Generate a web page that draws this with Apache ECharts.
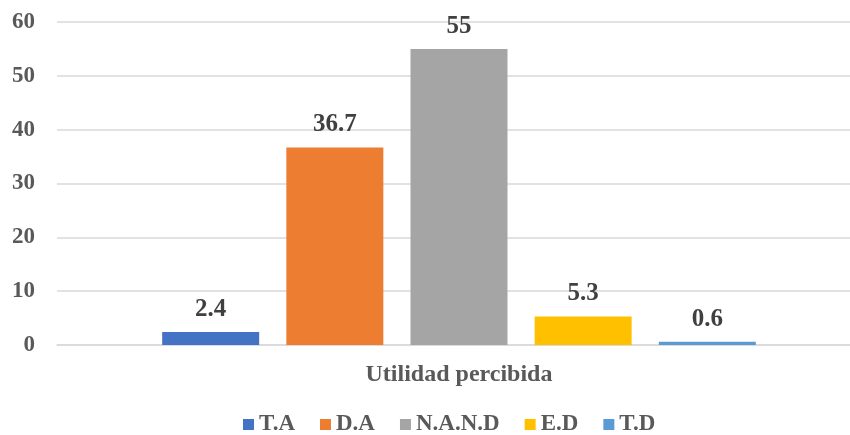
<!DOCTYPE html>
<html>
<head>
<meta charset="utf-8">
<script src="https://cdn.jsdelivr.net/npm/echarts@6/dist/echarts.min.js"></script>
<style>
  html, body { margin: 0; padding: 0; background: #fff; overflow: hidden; }
  #chart { width: 861px; height: 435px; }
</style>
</head>
<body>
<div id="chart"></div>
<script>
// Perceived usefulness survey: share of responses per answer option
const categories = ['Utilidad percibida'];
const seriesNames = ['T.A', 'D.A', 'N.A.N.D', 'E.D', 'T.D'];
const seriesValues = [[2.4], [36.7], [55], [5.3], [0.6]];
const seriesColors = ['#4472C4', '#ED7D31', '#A5A5A5', '#FFC000', '#5B9BD5'];
const yTicks = [0, 10, 20, 30, 40, 50, 60];

const font = '"Liberation Serif", "Times New Roman", serif';
const textColor = '#595959';

const chart = echarts.init(document.getElementById('chart'), null, { renderer: 'canvas' });

chart.setOption({
  animation: false,
  textStyle: { fontFamily: font },
  grid: { left: 57, top: 22, right: 0, height: 323, containLabel: false },
  legend: {
    data: seriesNames,
    top: 413,
    left: 243,
    padding: 0,
    icon: 'rect',
    itemWidth: 11,
    itemHeight: 11,
    itemGap: 25,
    textStyle: { fontFamily: font, fontSize: 23, fontWeight: 'bold', color: textColor }
  },
  xAxis: {
    type: 'category',
    data: categories,
    axisLine: { show: true, lineStyle: { color: '#D9D9D9', width: 1.5 } },
    axisTick: { show: false },
    axisLabel: { margin: 18, fontFamily: font, fontSize: 24, fontWeight: 'bold', color: textColor }
  },
  yAxis: {
    type: 'value',
    min: yTicks[0],
    max: yTicks[yTicks.length - 1],
    interval: 10,
    axisLine: { show: false },
    axisTick: { show: false },
    splitLine: { lineStyle: { color: '#D9D9D9', width: 1.5 } },
    axisLabel: { margin: 22, fontFamily: font, fontSize: 23, fontWeight: 'bold', color: textColor }
  },
  series: seriesNames.map((name, i) => ({
    name: name,
    type: 'bar',
    data: seriesValues[i],
    barWidth: 97,
    barGap: '28%',
    itemStyle: { color: seriesColors[i] },
    label: {
      show: true,
      position: 'top',
      distance: 10,
      fontFamily: font,
      fontSize: 25,
      fontWeight: 'bold',
      color: '#404040'
    }
  }))
});
</script>
</body>
</html>
